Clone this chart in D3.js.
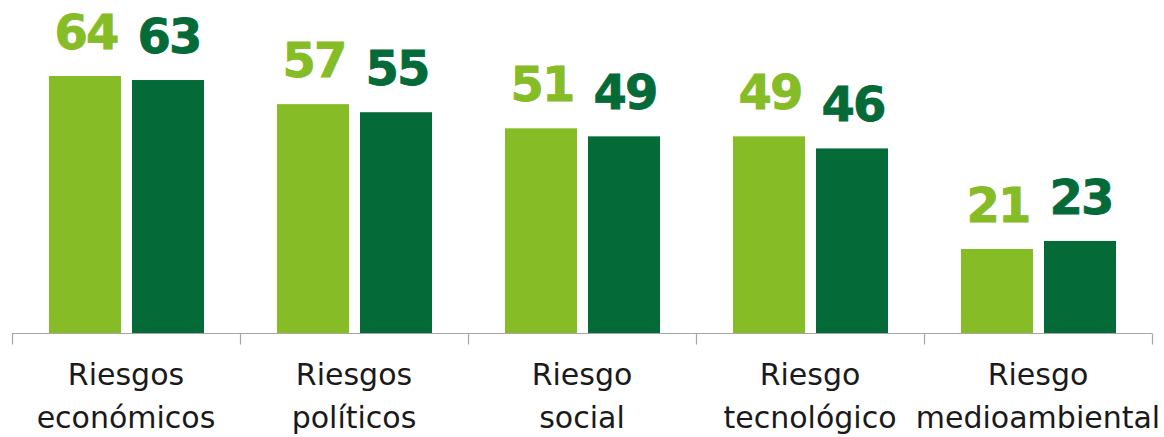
<!DOCTYPE html>
<html>
<head>
<meta charset="utf-8">
<script src="https://cdn.jsdelivr.net/npm/d3@7"></script>
<style>
  html, body { margin: 0; padding: 0; background: #fff; }
  svg { display: block; }
</style>
</head>
<body>
<svg id="chart" width="1164" height="437"></svg>
<script>
const categories = [
  ["Riesgos", "económicos"],
  ["Riesgos", "políticos"],
  ["Riesgo", "social"],
  ["Riesgo", "tecnológico"],
  ["Riesgo", "medioambiental"]
];
const seriesNames = ["Serie 1", "Serie 2"];
const series1 = [64, 57, 51, 49, 21];
const series2 = [63, 55, 49, 46, 23];
const seriesColors = ["#86BC25", "#046A38"];

const svg = d3.select("#chart");
const baseY = 333.5;
const catKeys = categories.map((c, i) => i);

const x = d3.scaleBand().domain(catKeys).range([12, 1152]).padding(0);
const xs = d3.scaleBand().domain(seriesNames).range([37, 192]).paddingInner(0.1325).paddingOuter(0);
const y = d3.scaleLinear().domain([0, 64]).range([baseY, 76]);

const data = [];
catKeys.forEach(i => {
  data.push({ cat: i, s: seriesNames[0], v: series1[i], color: seriesColors[0] });
  data.push({ cat: i, s: seriesNames[1], v: series2[i], color: seriesColors[1] });
});

// Bars
svg.append("g").selectAll("rect").data(data).join("rect")
  .attr("x", d => x(d.cat) + xs(d.s))
  .attr("y", d => y(d.v))
  .attr("width", xs.bandwidth())
  .attr("height", d => baseY - y(d.v))
  .attr("fill", d => d.color);

// Value labels
const ls = -2;
svg.append("g").selectAll("text").data(data).join("text")
  .attr("x", d => x(d.cat) + xs(d.s) + xs.bandwidth() / 2 - ls / 2)
  .attr("y", d => y(d.v) - 27)
  .attr("text-anchor", "middle")
  .attr("font-family", "'DejaVu Sans', sans-serif")
  .attr("font-weight", "bold")
  .attr("font-size", 48)
  .attr("letter-spacing", ls)
  .attr("fill", d => d.color)
  .attr("stroke", d => d.color)
  .attr("stroke-width", 0.8)
  .text(d => d.v);

// Axis
const axis = svg.append("g").attr("stroke", "#a6a6a6").attr("stroke-width", 1.2);
axis.append("line")
  .attr("x1", x.range()[0]).attr("x2", x.range()[1])
  .attr("y1", baseY).attr("y2", baseY);
const tickPos = catKeys.map(i => x(i)).concat([x.range()[1]]);
axis.selectAll("line.tick").data(tickPos).join("line")
  .attr("class", "tick")
  .attr("x1", d => d + 0.5).attr("x2", d => d + 0.5)
  .attr("y1", baseY).attr("y2", baseY + 11);

// Category labels
const lbl = svg.append("g").selectAll("text").data(catKeys).join("text")
  .attr("x", i => x(i) + x.bandwidth() / 2)
  .attr("y", 385)
  .attr("text-anchor", "middle")
  .attr("font-family", "'DejaVu Sans', sans-serif")
  .attr("font-size", 30)
  .attr("fill", "#1a1a1a");
lbl.selectAll("tspan").data(i => categories[i]).join("tspan")
  .attr("x", function() { return d3.select(this.parentNode).attr("x"); })
  .attr("dy", (d, j) => j === 0 ? 0 : 43)
  .text(d => d);
</script>
</body>
</html>
